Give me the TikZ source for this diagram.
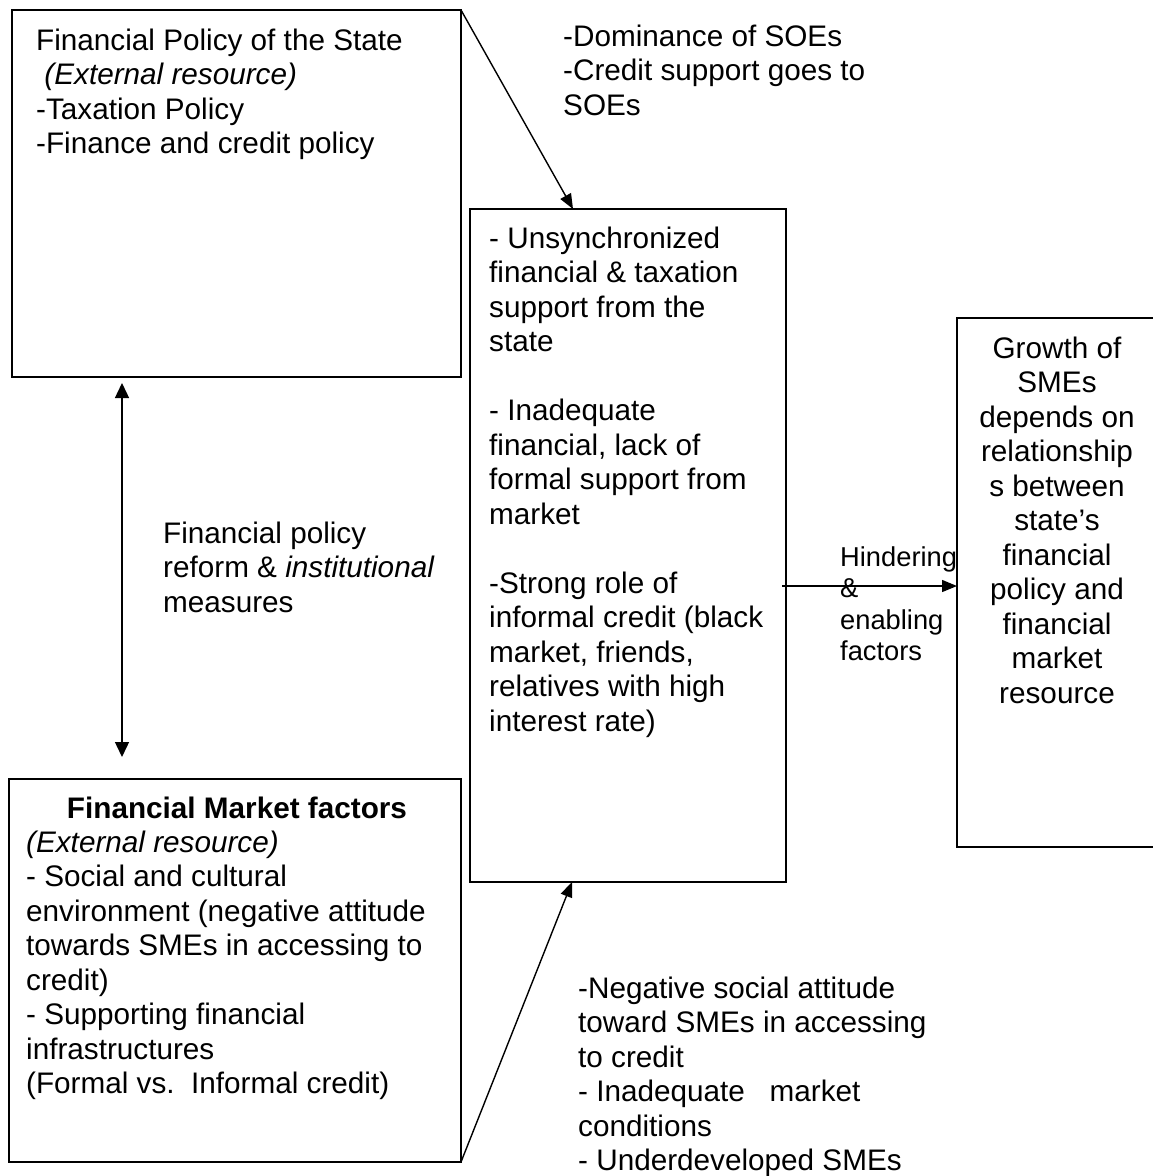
\documentclass[tikz,border=0pt]{standalone}
\usepackage{fontspec}
\setmainfont{Liberation Sans}
\usetikzlibrary{arrows.meta}

\begin{document}
\begin{tikzpicture}[x=1pt, y=-1pt,
    box/.style={draw, line width=1.6pt, outer sep=0pt, inner sep=0pt, anchor=north west},
    txt/.style={inner sep=0pt, anchor=north west, align=left, font=\fontsize{29.7}{34.5}\selectfont},
    smalltxt/.style={inner sep=0pt, anchor=north west, align=left, font=\fontsize{27.3}{31.5}\selectfont},
    link/.style={line width=1.4pt, -{Triangle[length=15pt, width=12pt]}}]
    \useasboundingbox (0, 0) rectangle (1152, 1176);

    \node [box, minimum width=449pt, minimum height=367pt] (policy) at (12, 10) {};
    \node [box, minimum width=452pt, minimum height=383pt] (market) at (9, 779) {};
    \node [box, minimum width=316pt, minimum height=673pt] (factors) at (470, 209) {};
    \node [box, minimum width=205pt, minimum height=529pt] (growth) at (957, 318) {};

    \node [txt] (policytxt) at (36, 28.5) {Financial Policy of the State\\ \ \textit{(External resource)}\\-Taxation Policy\\-Finance and credit policy};
    \node [txt] (soetxt) at (563, 24.5) {-Dominance of SOEs\\-Credit support goes to\\SOEs};
    \node [txt] (factorstxt) at (489, 226.5) {- Unsynchronized\\financial \& taxation\\support from the\\state\\[34.5pt]- Inadequate\\financial, lack of\\formal support from\\market\\[34.5pt]-Strong role of\\informal credit (black\\market, friends,\\relatives with high\\interest rate)};
    \node [txt] (reformtxt) at (163, 521.5) {Financial policy\\reform \& \textit{institutional}\\measures};
    \node [txt, anchor=north, align=center] (growthtxt) at (1057, 336.5) {Growth of\\SMEs\\depends on\\relationship\\s between\\state’s\\financial\\policy and\\financial\\market\\resource};
    \node [txt, anchor=north] (markettitle) at (237, 796.5) {\textbf{Financial Market factors}};
    \node [txt] (markettxt) at (26, 830.5) {\textit{(External resource)}\\- Social and cultural\\environment (negative attitude\\towards SMEs in accessing to\\credit)\\- Supporting financial\\infrastructures\\(Formal vs.\ \ Informal credit)};
    \node [txt] (socialtxt) at (578, 976.5) {-Negative social attitude\\toward SMEs in accessing\\to credit\\- Inadequate\ \ \ market\\conditions\\- Underdeveloped SMEs};
    \node [smalltxt] (hintxt) at (840, 546.5) {Hindering\\\&\\enabling\\factors};

    \coordinate (hin) at ([yshift=-40.5pt]factors.east);
    \draw [link] (policy.north east) -- ([xshift=103pt]factors.north west);
    \draw [link] (market.south east) -- ([xshift=102pt]factors.south west);
    \draw [link, {Triangle[length=15pt, width=14pt]}-{Triangle[length=15pt, width=14pt]}] ([xshift=110pt, yshift=-6pt]policy.south west) -- ([xshift=113pt, yshift=22pt]market.north west);
    \draw [link] ([xshift=-4pt]hin) -- (hin -| growth.west);
\end{tikzpicture}
\end{document}
